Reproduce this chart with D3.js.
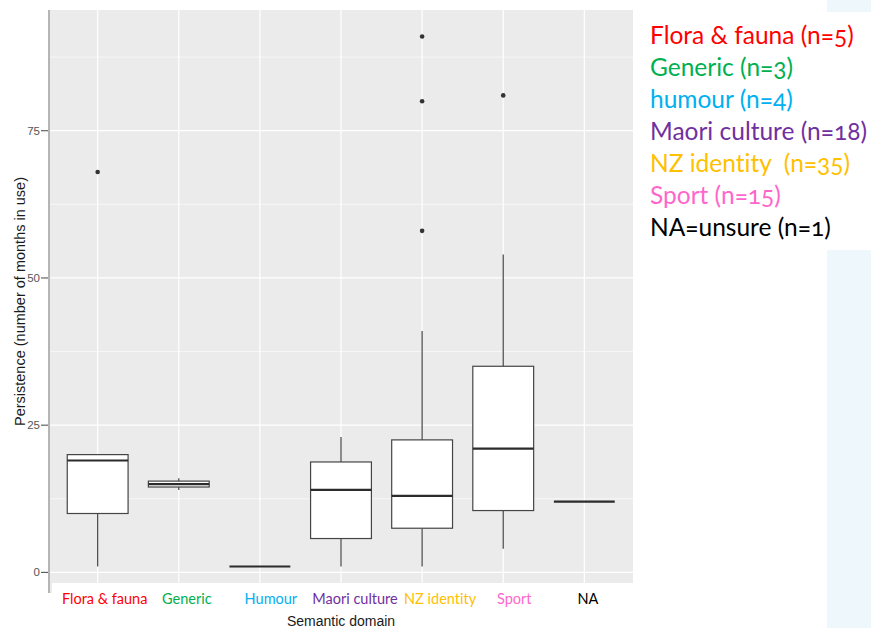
<!DOCTYPE html>
<html>
<head>
<meta charset="utf-8">
<script src="https://cdn.jsdelivr.net/npm/d3@7"></script>
<style>
  html, body { margin: 0; padding: 0; background: #fff; }
  svg { display: block; }
  .slide { font-family: Lato, "Open Sans", sans-serif; font-variant-ligatures: none; font-feature-settings: "liga" 0, "onum" 1; }
  .gg { font-family: "Liberation Sans", Arial, sans-serif; }
</style>
</head>
<body>
<svg id="chart" width="871" height="628"></svg>
<script>
// Persistence of loanwords by semantic domain (months in use)
const categories = ["Flora & fauna", "Generic", "Humour", "Maori culture", "NZ identity", "Sport", "NA"];
const whiskerLow  = [1, 14, 1, 1, 1, 4, 12];
const q1          = [10, 14.5, 1, 5.75, 7.5, 10.5, 12];
const medians     = [19, 15, 1, 14, 13, 21, 12];
const q3          = [20, 15.5, 1, 18.75, 22.5, 35, 12];
const whiskerHigh = [20, 16, 1, 23, 41, 54, 12];
const outliers    = [[68], [], [], [], [58, 80, 91], [81], []];
const categoryColors = ["#FF0000", "#00B050", "#00B0F0", "#7030A0", "#FFC000", "#FF66CC", "#000000"];
const yTicks = [0, 25, 50, 75];
const yMinorTicks = [12.5, 37.5, 62.5, 87.5];
const legendLabels = ["Flora & fauna (n=5)", "Generic (n=3)", "humour (n=4)", "Maori culture (n=18)",
                      "NZ identity  (n=35)", "Sport (n=15)", "NA=unsure (n=1)"];
const legendColors = ["#FF0000", "#00B050", "#00B0F0", "#7030A0", "#FFC000", "#FF66CC", "#000000"];
// horizontal nudge (px) of each category caption under the axis
const labelNudge = [7, 8, 11, 14, 18, 11, 3.5];

const svg = d3.select("#chart");
const panel = { left: 49, right: 633, top: 10, bottom: 593 };

const x = d3.scaleBand().domain(categories)
  .range([panel.left, panel.right]).paddingInner(0).paddingOuter(0.1);
const y = d3.scaleLinear().domain([-3.5, 95.5]).range([panel.bottom, panel.top]);
const cx = d => x(d) + x.bandwidth() / 2;
const boxW = x.step() * 0.75;

// light side strip
svg.append("rect").attr("x", 827).attr("y", 0).attr("width", 44).attr("height", 628).attr("fill", "#EEF7FC");

// panel background
svg.append("rect").attr("x", panel.left).attr("y", panel.top)
  .attr("width", panel.right - panel.left).attr("height", panel.bottom - panel.top)
  .attr("fill", "#EBEBEB");

// grid
const grid = svg.append("g");
grid.selectAll(".minor").data(yMinorTicks).join("line")
  .attr("x1", panel.left).attr("x2", panel.right)
  .attr("y1", d => y(d)).attr("y2", d => y(d))
  .attr("stroke", "#fff").attr("stroke-width", 0.6);
grid.selectAll(".majorY").data(yTicks).join("line")
  .attr("x1", panel.left).attr("x2", panel.right)
  .attr("y1", d => y(d)).attr("y2", d => y(d))
  .attr("stroke", "#fff").attr("stroke-width", 1.2);
grid.selectAll(".majorX").data(categories).join("line")
  .attr("x1", d => cx(d)).attr("x2", d => cx(d))
  .attr("y1", panel.top).attr("y2", panel.bottom)
  .attr("stroke", "#fff").attr("stroke-width", 1.2);

// boxplots
const boxes = svg.append("g").selectAll("g").data(categories).join("g");
const lineCol = "#454545";
boxes.append("line")
  .attr("x1", d => cx(d)).attr("x2", d => cx(d))
  .attr("y1", (d, i) => y(q3[i])).attr("y2", (d, i) => y(whiskerHigh[i]))
  .attr("stroke", lineCol).attr("stroke-width", 1.2);
boxes.append("line")
  .attr("x1", d => cx(d)).attr("x2", d => cx(d))
  .attr("y1", (d, i) => y(q1[i])).attr("y2", (d, i) => y(whiskerLow[i]))
  .attr("stroke", lineCol).attr("stroke-width", 1.2);
boxes.append("rect")
  .attr("x", d => cx(d) - boxW / 2).attr("width", boxW)
  .attr("y", (d, i) => y(q3[i])).attr("height", (d, i) => y(q1[i]) - y(q3[i]))
  .attr("fill", "#fff").attr("stroke", lineCol).attr("stroke-width", 1.2);
boxes.append("line")
  .attr("x1", d => cx(d) - boxW / 2).attr("x2", d => cx(d) + boxW / 2)
  .attr("y1", (d, i) => y(medians[i])).attr("y2", (d, i) => y(medians[i]))
  .attr("stroke", "#2b2b2b").attr("stroke-width", 2.2);
boxes.each(function (d, i) {
  d3.select(this).selectAll("circle").data(outliers[i]).join("circle")
    .attr("cx", cx(d)).attr("cy", v => y(v)).attr("r", 2.3).attr("fill", "#333");
});

// y axis
const yAxis = svg.append("g").attr("class", "gg");
yAxis.selectAll("line").data(yTicks).join("line")
  .attr("x1", panel.left - 8).attr("x2", panel.left)
  .attr("y1", d => y(d)).attr("y2", d => y(d))
  .attr("stroke", "#555").attr("stroke-width", 1.1);
yAxis.selectAll("text").data(yTicks).join("text")
  .attr("x", panel.left - 9).attr("y", d => y(d) + 4)
  .attr("text-anchor", "end").attr("font-size", 11.5).attr("fill", "#555")
  .text(d => d);

// white caption strip below the panel
svg.append("rect").attr("x", 52).attr("y", 583).attr("width", panel.right - 52).attr("height", 30).attr("fill", "#fff");
// left frame line
svg.append("line").attr("x1", panel.left).attr("x2", panel.left)
  .attr("y1", panel.top).attr("y2", panel.bottom)
  .attr("stroke", "#b5b5b5").attr("stroke-width", 2);

// category captions
svg.append("g").attr("class", "slide").selectAll("text").data(categories).join("text")
  .attr("x", (d, i) => cx(d) + labelNudge[i]).attr("y", 604)
  .attr("text-anchor", "middle").attr("font-size", 14.5)
  .attr("fill", (d, i) => categoryColors[i])
  .text(d => d);

// axis titles
svg.append("text").attr("class", "gg")
  .attr("x", (panel.left + panel.right) / 2).attr("y", 626)
  .attr("text-anchor", "middle").attr("font-size", 14).attr("fill", "#1a1a1a")
  .text("Semantic domain");
svg.append("text").attr("class", "gg")
  .attr("transform", `translate(24.5,${(panel.top + panel.bottom) / 2}) rotate(-90)`)
  .attr("text-anchor", "middle").attr("font-size", 14.5).attr("fill", "#1a1a1a")
  .text("Persistence (number of months in use)");

// legend box
svg.append("rect").attr("x", 636).attr("y", 12).attr("width", 235).attr("height", 238).attr("fill", "#fff");
svg.append("g").attr("class", "slide").selectAll("text").data(legendLabels).join("text")
  .attr("x", 650).attr("y", (d, i) => 44 + i * 32)
  .attr("font-size", 24.5).attr("fill", (d, i) => legendColors[i])
  .attr("xml:space", "preserve").style("white-space", "pre")
  .text(d => d);
</script>
</body>
</html>
